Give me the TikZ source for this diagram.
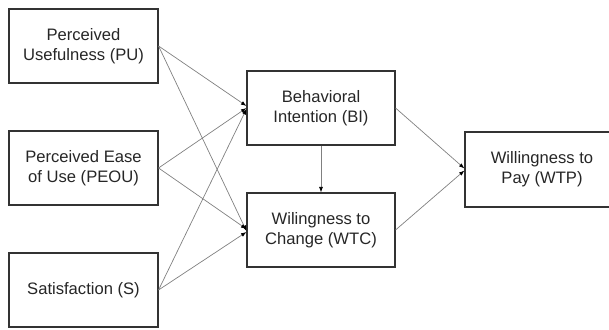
\documentclass[tikz,border=0pt]{standalone}
\usepackage{fontspec}
\setmainfont{Liberation Sans}
\usetikzlibrary{arrows.meta}
\usetikzlibrary{positioning}

\begin{document}
\begin{tikzpicture}
	[x=1pt, y=1pt, node distance={122pt},
	main/.style = {draw=black!80, line width=1.1pt, rectangle, minimum width=149pt, minimum height=74pt, align=center, text=black!85, font=\fontsize{16.6}{20}\selectfont},
	link/.style = {draw=black!50, line width=0.7pt, -{Latex[length=5.5pt,width=4pt,black]}}]
	\useasboundingbox (0,0) rectangle (609,329);
	\node[main] (PU) at (83.5,283) {Perceived\\Usefulness (PU)};
	\node[main] (PEOU) [below of = PU] {Perceived Ease\\of Use (PEOU)};
	\node[main] (S) [below of = PEOU] {Satisfaction (S)};
	\node[main, minimum width=148pt] (BI) at (321,221) {Behavioral\\Intention (BI)};
	\node[main, minimum width=148pt] (WTC) [below of = BI] {Wilingness to\\Change (WTC)};
	\node[main, minimum width=154pt, minimum height=75pt] (WTP) at (542,159.5) {Willingness to\\Pay (WTP)};
	\draw[link] (PU.east) -- ([yshift=2pt]BI.west);
	\draw[link] (PU.east) -- ([yshift=-1pt]WTC.west);
	\draw[link] (PEOU.east) -- (BI.west);
	\draw[link] (PEOU.east) -- ([yshift=1pt]WTC.west);
	\draw[link] (S.east) -- ([yshift=-1pt]BI.west);
	\draw[link] (S.east) -- ([yshift=-2pt]WTC.west);
	\draw[link] (BI) -- (WTC);
	\draw[link] (BI.east) -- ([yshift=1pt]WTP.west);
	\draw[link] (WTC.east) -- ([yshift=-1pt]WTP.west);
\end{tikzpicture}
\end{document}
